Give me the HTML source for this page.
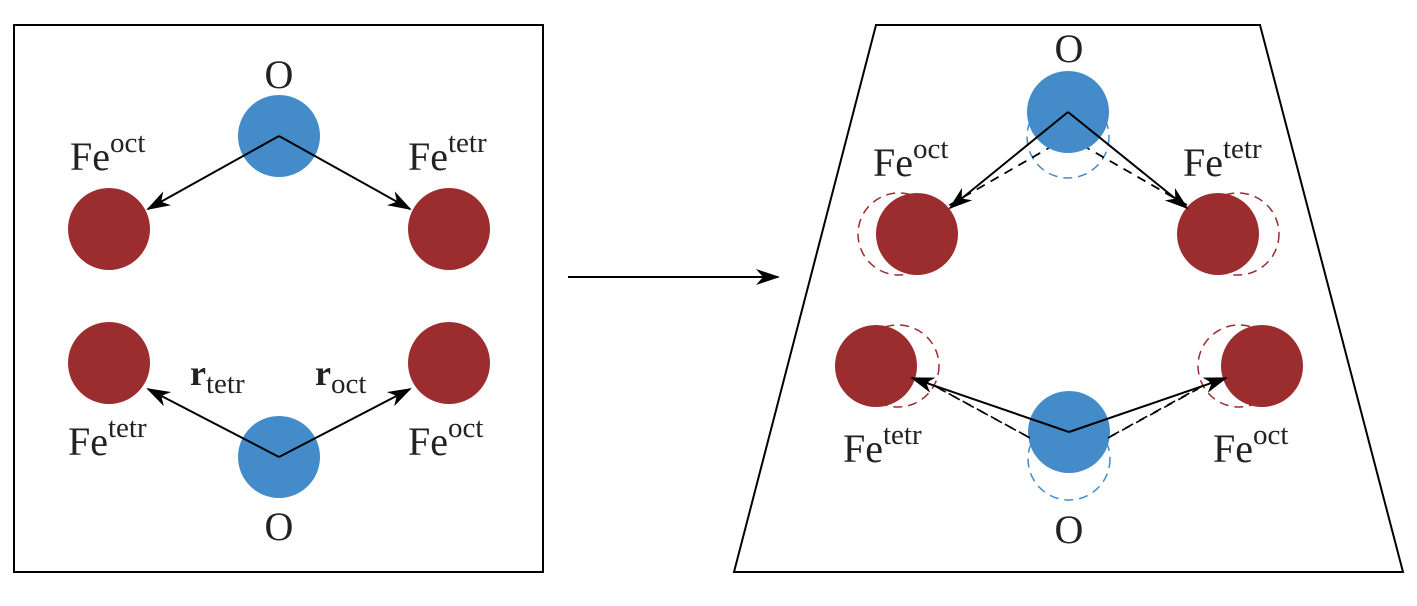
<!DOCTYPE html>
<html><head><style>html,body{margin:0;padding:0;background:#fff}svg{display:block}</style></head>
<body>
<svg width="1417" height="606" viewBox="0 0 1417 606" xmlns="http://www.w3.org/2000/svg" font-family="Liberation Serif, serif" fill="#222">
<defs>
<marker id="ah" viewBox="0 0 24 16" refX="22" refY="8" markerWidth="24" markerHeight="16" markerUnits="userSpaceOnUse" orient="auto">
<path d="M0,0 L24,8 L0,16 L7,8 Z" fill="#000"/>
</marker>
</defs>
<rect x="14" y="25" width="529" height="547" fill="none" stroke="#000" stroke-width="2"/>
<circle cx="279" cy="136" r="41" fill="#438cc9"/>
<circle cx="109" cy="229" r="41" fill="#9b2d2f"/>
<circle cx="449" cy="229" r="41" fill="#9b2d2f"/>
<circle cx="109" cy="363" r="41" fill="#9b2d2f"/>
<circle cx="449" cy="363" r="41" fill="#9b2d2f"/>
<circle cx="279" cy="457" r="41" fill="#438cc9"/>
<g stroke="#000" stroke-width="2" fill="none" marker-end="url(#ah)">
<line x1="279" y1="136" x2="148" y2="209"/>
<line x1="279" y1="136" x2="410" y2="209"/>
<line x1="279" y1="457" x2="148" y2="389"/>
<line x1="279" y1="457" x2="410" y2="389"/>
<line x1="568" y1="277" x2="778" y2="277"/>
</g>
<g font-size="40">
<text x="279" y="88" text-anchor="middle">O</text>
<text x="279" y="540" text-anchor="middle">O</text>
<text x="70" y="170">Fe<tspan font-size="29" dy="-18">oct</tspan></text>
<text x="408" y="170">Fe<tspan font-size="29" dy="-18">tetr</tspan></text>
<text x="68" y="455">Fe<tspan font-size="29" dy="-18">tetr</tspan></text>
<text x="408" y="455">Fe<tspan font-size="29" dy="-18">oct</tspan></text>
<text x="190" y="385" font-weight="bold" font-size="36">r<tspan font-weight="normal" font-size="29" dy="8">tetr</tspan></text>
<text x="315" y="385" font-weight="bold" font-size="36">r<tspan font-weight="normal" font-size="29" dy="8">oct</tspan></text>
</g>
<polygon points="876,25 1260,25 1403,572 734,572" fill="none" stroke="#000" stroke-width="2"/>
<g fill="none" stroke-width="1.5" stroke-dasharray="9,6">
<circle cx="1068" cy="137" r="41" stroke="#438cc9"/>
<circle cx="1069" cy="459" r="41" stroke="#438cc9"/>
<circle cx="899" cy="234" r="41" stroke="#9b2d2f"/>
<circle cx="1238" cy="234" r="41" stroke="#9b2d2f"/>
<circle cx="898" cy="366" r="41" stroke="#9b2d2f"/>
<circle cx="1239" cy="366" r="41" stroke="#9b2d2f"/>
</g>
<g stroke="#000" stroke-width="1.6" stroke-dasharray="9,7" fill="none">
<line x1="1068" y1="137" x2="899" y2="234"/>
<line x1="1068" y1="137" x2="1238" y2="234"/>
<line x1="1069" y1="459" x2="898" y2="366"/>
<line x1="1069" y1="459" x2="1239" y2="366"/>
</g>
<circle cx="1068" cy="112" r="41" fill="#438cc9"/>
<circle cx="917" cy="234" r="41" fill="#9b2d2f"/>
<circle cx="1218" cy="234" r="41" fill="#9b2d2f"/>
<circle cx="876" cy="366" r="41" fill="#9b2d2f"/>
<circle cx="1262" cy="366" r="41" fill="#9b2d2f"/>
<circle cx="1069" cy="432" r="41" fill="#438cc9"/>
<g stroke="#000" stroke-width="1.6" stroke-dasharray="9,7" fill="none">
<line x1="1040" y1="153" x2="955" y2="202"/>
<line x1="1096" y1="153" x2="1181" y2="202"/>
<line x1="1030" y1="438" x2="940" y2="389"/>
<line x1="1108" y1="438" x2="1198" y2="389"/>
</g>
<g stroke="#000" stroke-width="2" fill="none" marker-end="url(#ah)">
<line x1="1068" y1="112" x2="950" y2="208"/>
<line x1="1068" y1="112" x2="1187" y2="208"/>
<line x1="1069" y1="432" x2="912" y2="378"/>
<line x1="1069" y1="432" x2="1226" y2="378"/>
</g>
<g font-size="40">
<text x="1069" y="62" text-anchor="middle">O</text>
<text x="1069" y="543" text-anchor="middle">O</text>
<text x="873" y="176">Fe<tspan font-size="29" dy="-18">oct</tspan></text>
<text x="1183" y="176">Fe<tspan font-size="29" dy="-18">tetr</tspan></text>
<text x="843" y="462">Fe<tspan font-size="29" dy="-18">tetr</tspan></text>
<text x="1213" y="462">Fe<tspan font-size="29" dy="-18">oct</tspan></text>
</g>
</svg>
</body></html>
